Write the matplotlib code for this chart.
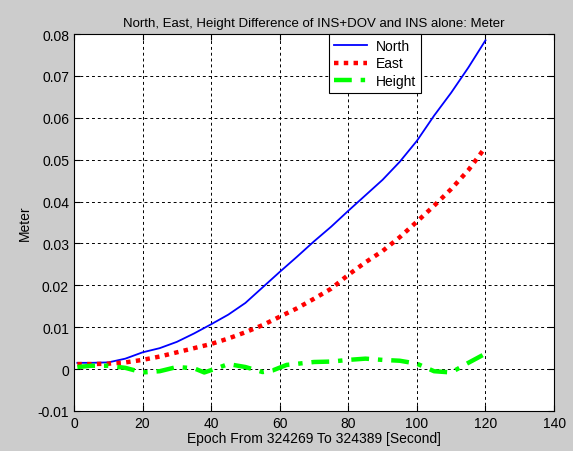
import numpy as np
import matplotlib
matplotlib.use("Agg")
import matplotlib.pyplot as plt

plt.rcParams['font.family'] = ['Liberation Sans', 'DejaVu Sans']

# Epoch (s) relative to 324269
epoch = [1, 5, 10, 15, 20, 25, 30, 35, 40, 45, 50, 55, 60,
         65, 70, 75, 80, 85, 90, 95, 100, 105, 110, 115, 120]

north = [0.0015, 0.0015, 0.0016, 0.0025, 0.0040, 0.0050, 0.0065, 0.0085, 0.0107,
         0.0130, 0.0158, 0.0195, 0.0232, 0.0268, 0.0305, 0.0340, 0.0378, 0.0415,
         0.0452, 0.0495, 0.0545, 0.0605, 0.0660, 0.0720, 0.0785]

east = [0.0012, 0.0012, 0.0013, 0.0016, 0.0022, 0.0030, 0.0040, 0.0050, 0.0060,
        0.0073, 0.0088, 0.0105, 0.0125, 0.0145, 0.0168, 0.0192, 0.0225, 0.0255,
        0.0282, 0.0315, 0.0352, 0.0390, 0.0430, 0.0475, 0.0530]

height_epoch = [1, 5, 10, 15, 20, 25, 30, 35, 38, 42, 45, 50, 55, 58, 62,
                70, 75, 80, 85, 90, 95, 100, 105, 110, 115, 120]
height = [0.0005, 0.0008, 0.0008, 0.0003, -0.0008, -0.0005, 0.0005, 0.0002, -0.0008,
          0.0003, 0.0012, 0.0005, -0.0007, -0.0003, 0.0010, 0.0017, 0.0018, 0.0022,
          0.0025, 0.0022, 0.0020, 0.0013, -0.0005, -0.0008, 0.0015, 0.0037]

fig = plt.figure(figsize=(5.73, 4.52), dpi=100, facecolor='#cccccc')
ax = fig.add_axes([0.129, 0.0885, 0.838, 0.834])
ax.set_facecolor('white')

ax.plot(epoch, north, color='#0000ff', lw=1.3, label='North')
ax.plot(epoch, east, color='#ff0000', lw=3.2, linestyle=(0, (1, 1.2)), label='East')
ax.plot(height_epoch, height, color='#00ff00', lw=3.2, linestyle=(0, (4, 2, 1, 2)), label='Height')

ax.set_xlim(0, 140)
ax.set_ylim(-0.01, 0.08)
ax.set_xticks(np.arange(0, 141, 20))
ax.set_yticks(np.arange(-0.01, 0.081, 0.01))
ax.set_yticklabels(['-0.01', '0', '0.01', '0.02', '0.03', '0.04', '0.05', '0.06', '0.07', '0.08'])
ax.grid(True, color='black', linestyle=(0, (3, 3)), lw=0.7)
ax.tick_params(direction='in', top=True, right=True, labelsize=10, length=4)
for s in ax.spines.values():
    s.set_linewidth(0.8)

ax.set_title('North, East, Height Difference of INS+DOV and INS alone: Meter', fontsize=9.5)
ax.set_xlabel('Epoch From 324269 To 324389 [Second]', fontsize=10, labelpad=1)
ax.set_ylabel('Meter', fontsize=10)

leg = ax.legend(loc='upper left', bbox_to_anchor=(0.531, 1.0), fontsize=10,
                fancybox=False, edgecolor='black', framealpha=1, borderaxespad=0,
                handlelength=2.4, handletextpad=0.6, borderpad=0.35, labelspacing=0.25)
leg.get_frame().set_linewidth(0.8)

fig.savefig('out.png', dpi=100, facecolor=fig.get_facecolor())
